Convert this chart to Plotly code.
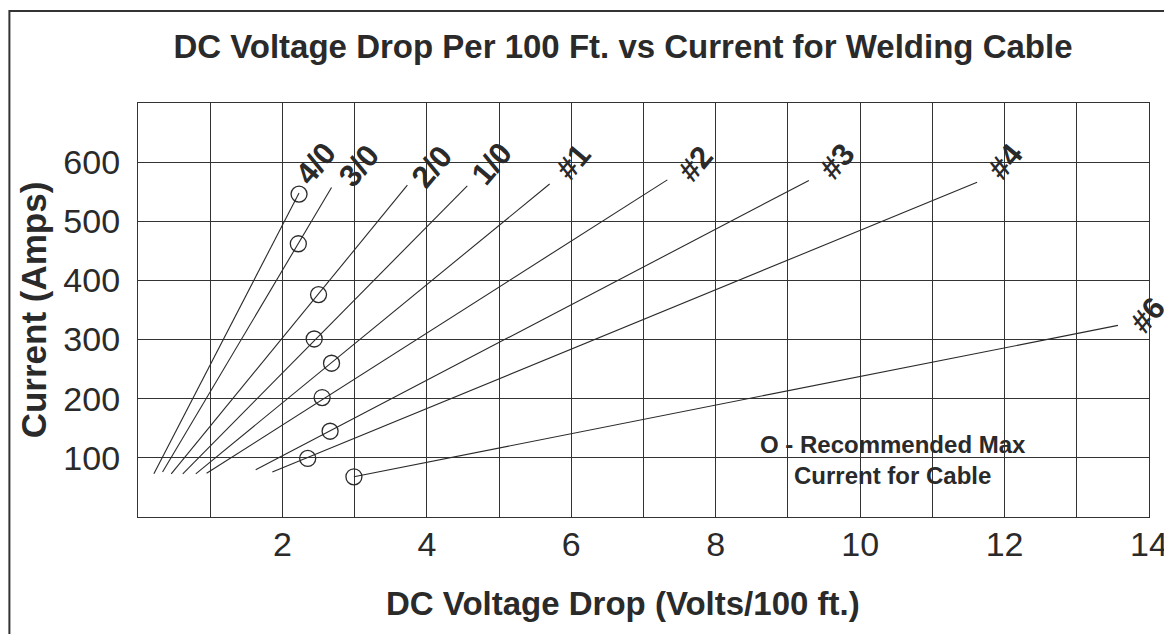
import plotly.graph_objects as go

# cable sizes and line end points (volts / 100 ft, amps)
cables = ["4/0", "3/0", "2/0", "1/0", "#1", "#2", "#3", "#4", "#6"]
volt_start = [0.22, 0.34, 0.46, 0.62, 0.80, 0.95, 1.63, 1.86, 2.99]
amp_start = [73, 76, 73, 73, 73, 74, 80, 76, 68]
volt_end = [2.23, 2.68, 3.73, 4.56, 5.70, 7.33, 9.29, 11.62, 13.57]
amp_end = [548, 557, 561, 560, 563, 570, 569, 566, 324]

# recommended max current (open circles)
volt_max = [2.23, 2.22, 2.50, 2.44, 2.68, 2.55, 2.66, 2.35, 2.99]
amp_max = [546, 462, 376, 301, 260, 202, 145, 99, 68]

# where the rotated cable labels sit
label_volt = [2.46, 3.06, 4.07, 4.90, 6.03, 7.72, 9.68, 12.01, 13.98]
label_amp = [598, 595, 593, 598, 601, 598, 601, 601, 340]

x_ticks = list(range(0, 15))
x_tick_text = ["", "", "2", "", "4", "", "6", "", "8", "", "10", "", "12", "", "14"]
y_ticks = [0, 100, 200, 300, 400, 500, 600, 700]
y_tick_text = ["", "100", "200", "300", "400", "500", "600", ""]

FONT = "Liberation Sans, Arial, sans-serif"
INK = "#2a2a2a"

fig = go.Figure()

for i, name in enumerate(cables):
    fig.add_trace(go.Scatter(
        x=[volt_start[i], volt_end[i]],
        y=[amp_start[i], amp_end[i]],
        mode='lines',
        name=name,
        line=dict(color=INK, width=1.1),
        hoverinfo='skip'
    ))

fig.add_trace(go.Scatter(
    x=volt_max,
    y=amp_max,
    mode='markers',
    name='Recommended Max',
    marker=dict(symbol='circle-open', size=16, color=INK, line=dict(width=1.3)),
    text=cables,
    hovertemplate='%{text}<br>%{x} V / %{y} A<extra></extra>'
))

for i, name in enumerate(cables):
    fig.add_annotation(
        x=label_volt[i], y=label_amp[i], text=name, showarrow=False,
        textangle=-50, font=dict(family=FONT, size=31, color=INK, weight='bold')
    )

fig.add_annotation(
    x=10.46, y=96, text="O - Recommended Max<br>Current for Cable", showarrow=False,
    align='center', font=dict(family=FONT, size=24, color=INK, weight='bold')
)

# x axis title sits a little left of the plot centre in the original
fig.add_annotation(
    xref='paper', yref='paper', x=0.48, y=-0.208, yanchor='middle',
    text="DC Voltage Drop (Volts/100 ft.)", showarrow=False,
    font=dict(family=FONT, size=33, color=INK, weight='bold')
)

# outer frame of the figure
fig.add_shape(
    type='rect', xref='paper', yref='paper',
    x0=-0.1272, x1=1.0178, y0=-0.35, y1=1.2222,
    line=dict(color='#333', width=2), layer='below'
)

fig.update_layout(
    width=1172, height=634,
    title=dict(
        text="DC Voltage Drop Per 100 Ft. vs Current for Welding Cable",
        x=0.5247, xanchor='center', y=0.94, yanchor='middle',
        font=dict(family=FONT, size=33, color=INK, weight='bold')
    ),
    xaxis=dict(
        range=[0, 14], tickvals=x_ticks, ticktext=x_tick_text,
        showgrid=True, gridcolor='#333', gridwidth=1.3, zeroline=False,
        showline=True, linecolor='#333', linewidth=1.3, mirror=True,
        ticks='', ticklabelstandoff=-3, tickfont=dict(family=FONT, size=34, color=INK)
    ),
    yaxis=dict(
        range=[0, 700], tickvals=y_ticks, ticktext=y_tick_text,
        showgrid=True, gridcolor='#333', gridwidth=1.3, zeroline=False,
        showline=True, linecolor='#333', linewidth=1.3, mirror=True,
        ticks='', ticklabelstandoff=10, tickfont=dict(family=FONT, size=34, color=INK),
        title=dict(text="Current (Amps)", standoff=6,
                   font=dict(family=FONT, size=35, color=INK, weight='bold'))
    ),
    showlegend=False,
    paper_bgcolor='white',
    plot_bgcolor='white',
    margin=dict(l=130, r=28, t=95, b=125)
)

fig.write_html("out.html")
